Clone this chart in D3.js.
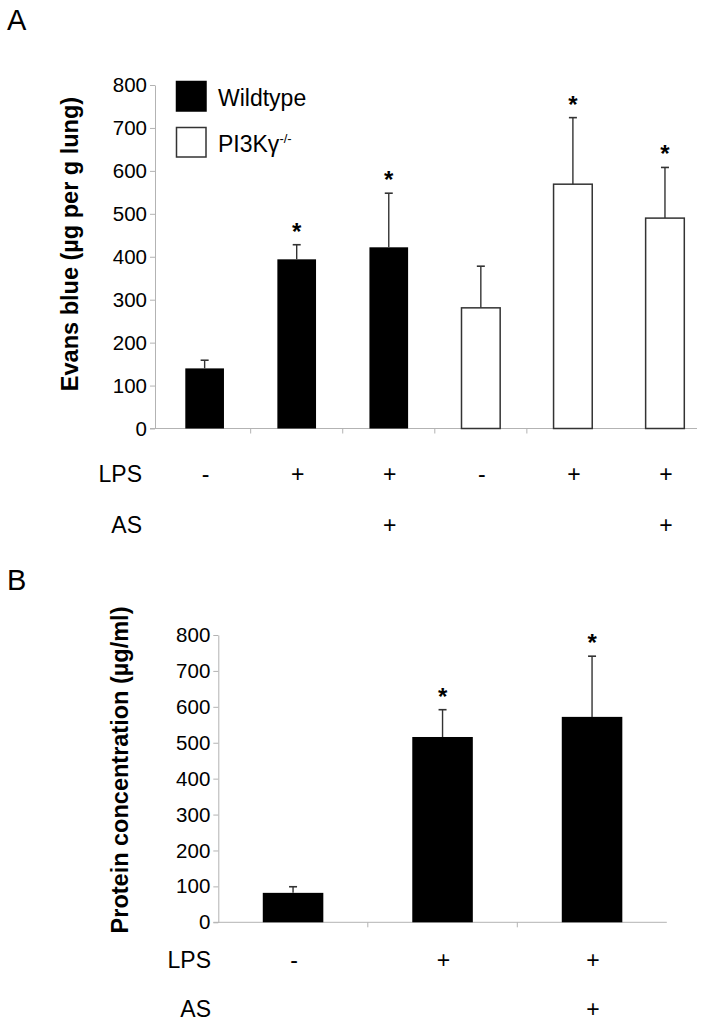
<!DOCTYPE html>
<html>
<head>
<meta charset="utf-8">
<script src="https://cdn.jsdelivr.net/npm/d3@7"></script>
<style>
  html, body { margin: 0; padding: 0; background: #fff; }
  svg { display: block; }
</style>
</head>
<body>
<script>
// ---------------- DATA ----------------
// Panel A: Evans blue (µg per g lung)
const categoriesA = ["WT", "WT LPS", "WT LPS AS", "KO", "KO LPS", "KO LPS AS"];
const groupA      = ["Wildtype", "Wildtype", "Wildtype", "PI3Kγ-/-", "PI3Kγ-/-", "PI3Kγ-/-"];
const valuesA     = [140, 394, 422, 281, 569, 490];
const errorsA     = [19, 34, 126, 97, 155, 118];
const starsA      = [false, true, true, false, true, true];
const lpsA        = ["-", "+", "+", "-", "+", "+"];
const asA         = ["", "", "+", "", "", "+"];

// Panel B: Protein concentration (µg/ml)
const categoriesB = ["Control", "LPS", "LPS AS"];
const valuesB     = [82, 516, 572];
const errorsB     = [17, 76, 169];
const starsB      = [false, true, true];
const lpsB        = ["-", "+", "+"];
const asB         = ["", "", "+"];

const yTickValues = [0, 100, 200, 300, 400, 500, 600, 700, 800];
const legendLabels = ["Wildtype", "PI3Kγ"];
const legendSup = ["", "-/-"];

// ---------------- LAYOUT ----------------
const W = 705, H = 1025;
const FONT = "Arial, 'Liberation Sans', Helvetica, sans-serif";
const AXIS_COLOR = "#b3b3b3";
const ERR_COLOR = "#333";

const svg = d3.select("body").append("svg")
  .attr("width", W).attr("height", H)
  .style("font-family", FONT);

function drawPanel(cfg) {
  const g = svg.append("g");
  const y = d3.scaleLinear().domain([0, 800]).range([cfg.y0, cfg.y800]);
  const x = d3.scaleBand().domain(cfg.categories)
    .range([cfg.bandStart, cfg.bandEnd])
    .paddingInner(cfg.pad).paddingOuter(cfg.pad / 2);
  const bw = x.bandwidth();
  const step = x.step();

  // y axis
  const yAxis = g.append("g")
    .attr("transform", `translate(${cfg.axisX},0)`)
    .call(d3.axisLeft(y).tickValues(yTickValues).tickSize(5).tickPadding(3).tickSizeOuter(0));
  yAxis.select(".domain").attr("stroke", AXIS_COLOR).attr("stroke-width", 1);
  yAxis.selectAll(".tick line").attr("stroke", AXIS_COLOR);
  yAxis.selectAll(".tick text")
    .attr("fill", "#000").style("font-size", "20.5px").style("font-family", FONT);

  // baseline
  g.append("line")
    .attr("x1", cfg.axisX - 5).attr("x2", cfg.axisEnd)
    .attr("y1", y(0)).attr("y2", y(0))
    .attr("stroke", AXIS_COLOR).attr("stroke-width", 1);
  // category separator ticks
  const seps = cfg.categories.slice(1, cfg.nSeps + 1);
  g.selectAll(".sep").data(seps).join("line")
    .attr("x1", d => x(d) - (step - bw) / 2)
    .attr("x2", d => x(d) - (step - bw) / 2)
    .attr("y1", y(0)).attr("y2", y(0) + 5)
    .attr("stroke", AXIS_COLOR).attr("stroke-width", 1);

  // bars
  g.selectAll(".bar").data(cfg.categories).join("rect")
    .attr("x", d => x(d))
    .attr("width", bw)
    .attr("y", (d, i) => y(cfg.values[i]))
    .attr("height", (d, i) => y(0) - y(cfg.values[i]))
    .attr("fill", (d, i) => cfg.fill(i))
    .attr("stroke", (d, i) => cfg.fill(i) === "#fff" ? ERR_COLOR : "none")
    .attr("stroke-width", 1.5);

  // error bars
  const eg = g.selectAll(".err").data(cfg.categories).join("g");
  eg.append("line")
    .attr("x1", d => x(d) + bw / 2).attr("x2", d => x(d) + bw / 2)
    .attr("y1", (d, i) => y(cfg.values[i]))
    .attr("y2", (d, i) => y(cfg.values[i] + cfg.errors[i]))
    .attr("stroke", ERR_COLOR).attr("stroke-width", 1.4);
  eg.append("line")
    .attr("x1", d => x(d) + bw / 2 - 4).attr("x2", d => x(d) + bw / 2 + 4)
    .attr("y1", (d, i) => y(cfg.values[i] + cfg.errors[i]))
    .attr("y2", (d, i) => y(cfg.values[i] + cfg.errors[i]))
    .attr("stroke", ERR_COLOR).attr("stroke-width", 1.6);

  // significance stars
  g.selectAll(".star").data(cfg.categories.filter((d, i) => cfg.stars[i])).join("text")
    .attr("x", d => x(d) + bw / 2)
    .attr("y", d => {
      const i = cfg.categories.indexOf(d);
      return y(cfg.values[i] + cfg.errors[i]) - 5;
    })
    .attr("text-anchor", "middle")
    .style("font-size", "24px").style("font-weight", "bold")
    .text("*");

  // y title
  g.append("text")
    .attr("transform", `translate(${cfg.titleX},${cfg.titleY}) rotate(-90)`)
    .attr("text-anchor", "middle")
    .style("font-size", "23.5px").style("font-weight", "bold")
    .text(cfg.title);

  // treatment rows
  const rows = [["LPS", cfg.lps, cfg.lpsY], ["AS", cfg.as, cfg.asY]];
  rows.forEach(([label, signs, cy]) => {
    g.append("text")
      .attr("x", cfg.rowLabelX).attr("y", cy + 8)
      .attr("text-anchor", "end")
      .style("font-size", "23px")
      .text(label);
    g.selectAll(null).data(cfg.categories).join("text")
      .attr("x", d => x(d) + bw / 2 + 1)
      .attr("y", cy + 8)
      .attr("text-anchor", "middle")
      .style("font-size", "23px")
      .text((d, i) => signs[i]);
  });

  // panel letter
  g.append("text")
    .attr("x", cfg.letterX).attr("y", cfg.letterY)
    .style("font-size", "29px")
    .text(cfg.letter);

  return { x, y, g };
}

// Panel A
const pA = drawPanel({
  categories: categoriesA, values: valuesA, errors: errorsA, stars: starsA,
  lps: lpsA, as: asA,
  fill: i => groupA[i] === "Wildtype" ? "#000" : "#fff",
  y0: 428.5, y800: 85, axisX: 155, axisEnd: 697,
  bandStart: 158.6, bandEnd: 711, pad: 0.58, nSeps: 4,
  title: "Evans blue (µg per g lung)", titleX: 78, titleY: 244,
  lpsY: 473.5, asY: 525, rowLabelX: 142,
  letter: "A", letterX: 7, letterY: 29.5
});

// Legend for panel A
const legendColors = ["#000", "#fff"];
const legendY = [81, 127];
const lg = svg.append("g");
legendLabels.forEach((lab, i) => {
  lg.append("rect")
    .attr("x", 176.5).attr("y", legendY[i] + 0.5)
    .attr("width", 29.5).attr("height", 29.5)
    .attr("fill", legendColors[i])
    .attr("stroke", i === 0 ? "#000" : ERR_COLOR).attr("stroke-width", 1.5);
  const t = lg.append("text")
    .attr("x", 218).attr("y", legendY[i] + 25)
    .style("font-size", "23px")
    .text(lab);
  if (legendSup[i]) {
    t.append("tspan")
      .attr("dy", -9)
      .style("font-size", "13px")
      .text(legendSup[i]);
  }
});

// Panel B
const pB = drawPanel({
  categories: categoriesB, values: valuesB, errors: errorsB, stars: starsB,
  lps: lpsB, as: asB,
  fill: i => "#000",
  y0: 922.3, y800: 635, axisX: 218.3, axisEnd: 666.8,
  bandStart: 218.3, bandEnd: 666.8, pad: 0.595, nSeps: 2,
  title: "Protein concentration (µg/ml)", titleX: 128, titleY: 770,
  lpsY: 960, asY: 1009, rowLabelX: 211,
  letter: "B", letterX: 7, letterY: 590
});
</script>
</body>
</html>
